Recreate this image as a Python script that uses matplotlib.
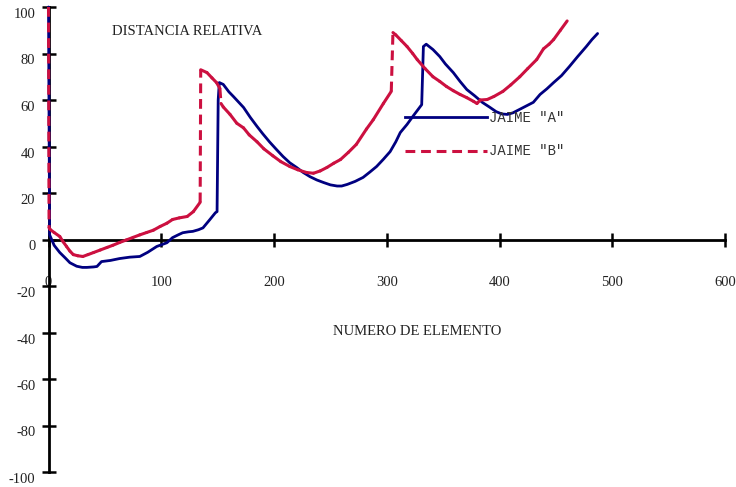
import matplotlib
matplotlib.use("Agg")
import matplotlib.pyplot as plt
import matplotlib.transforms as mtransforms
from matplotlib.collections import LineCollection
from matplotlib.lines import Line2D
import numpy as np

# ---- data ----
a_x = [0, 1, 5, 10, 15, 19, 25, 30, 34, 40, 43, 47, 55, 63, 72, 81, 88, 96, 105, 110,
       115, 119, 124, 128, 133, 137, 143, 148, 149.5, 150.5, 151.5, 155, 160, 164, 173,
       179, 185, 190, 196, 202, 208, 214, 220, 226, 232, 238, 244, 250, 256, 260, 265,
       272, 279, 285, 291, 297, 303, 308, 312, 318, 324, 331, 332.5, 335, 341, 347, 352,
       359, 365, 371, 378, 385, 391, 397, 402, 407, 412, 418, 424, 430, 436, 442, 448,
       455, 462, 469, 477, 482, 487]
a_y = [100, 2, -2.5, -5.6, -8, -10, -11.5, -12, -12, -11.8, -11.6, -9.5, -9, -8.2, -7.6,
       -7.3, -5.5, -3, -1.4, 0.8, 2, 2.9, 3.3, 3.5, 4.2, 5, 8.5, 11.5, 12, 60, 67.5, 66.7,
       63.5, 61.5, 56.8, 52.5, 48.6, 45.5, 42, 38.8, 35.7, 33, 31, 28.8, 27, 25.6, 24.5,
       23.5, 23, 23, 23.7, 25, 26.7, 29, 31.4, 34.5, 37.8, 42, 46, 49.5, 53.5, 58, 83, 84,
       81.7, 78.7, 75.5, 71.8, 68, 64.5, 61.8, 58.9, 57, 55, 54, 53.8, 54.5, 56, 57.5, 59,
       62.4, 64.8, 67.5, 70.5, 74.4, 78.5, 83, 86, 88.6]

b_x = [0, 0.5, 1.5, 5, 10, 13, 16, 19, 22, 26, 30.5, 35, 40, 46, 52, 57, 63, 69, 75, 81,
       87, 93, 99, 105, 110, 116, 123, 128.5, 134.5, 135, 140.5, 145, 149, 152, 153, 155,
       161, 167, 173, 178, 185, 191, 199, 206, 214, 221, 229, 235, 241, 247, 253, 259,
       266, 273, 282, 288, 297, 304, 305.5, 308, 313, 318, 323, 327, 334, 341, 347, 353,
       359, 365, 371, 377, 380, 383, 389, 395, 403, 410, 418, 425, 433, 439, 444, 448,
       454, 460]
b_y = [100, 5, 4.3, 3, 1.3, -1, -3, -5, -6.5, -7, -7.3, -6.5, -5.6, -4.5, -3.4, -2.5,
       -1.3, -0.2, 0.9, 2, 3, 4, 5.6, 7, 8.6, 9.3, 9.9, 12, 16, 73, 71.8, 69.5, 67.5, 65,
       58.5, 57, 53.8, 50, 48, 45, 42, 39, 36, 33.5, 31.4, 30, 28.8, 28.5, 29.5, 31, 32.8,
       34.4, 37.5, 40.9, 47.5, 51.5, 58.5, 63.7, 89, 88, 85.5, 83, 80, 77.4, 73.5, 70, 68,
       65.8, 64, 62.4, 61, 59.4, 58.5, 60, 60.2, 61.5, 63.7, 66.5, 70, 73.5, 77.4, 82, 84,
       86, 90, 94]

series_names = ['JAIME "A"', 'JAIME "B"']
x_ticks = [0, 100, 200, 300, 400, 500, 600]
y_ticks = [-100, -80, -60, -40, -20, 0, 20, 40, 60, 80, 100]
title_text = "DISTANCIA RELATIVA"
xlabel_text = "NUMERO DE ELEMENTO"

# ---- style ----
BLUE = "#000080"
RED = "#CC1040"
SERIF = ["Liberation Serif", "DejaVu Serif"]
MONO = ["Liberation Mono", "DejaVu Sans Mono"]
DASH = (0, (3.2, 1.9))

fig = plt.figure(figsize=(7.36, 4.87), dpi=100)
W, H = 736, 487
ax = fig.add_axes([48.5 / W, 15 / H, (725 - 48.5) / W, (472 - 7) / H])
ax.set_xlim(0, 600)
ax.set_ylim(-100, 100)

for s in ("top", "right"):
    ax.spines[s].set_visible(False)
ax.spines["bottom"].set_position(("data", 0))
ax.spines["left"].set_position(("data", 0))
for s in ("bottom", "left"):
    ax.spines[s].set_linewidth(2.0)
    ax.spines[s].set_color("black")

ax.set_xticks(x_ticks)
ax.set_yticks(y_ticks)
ax.set_xticklabels([str(v) for v in x_ticks])
ax.set_yticklabels([str(v) for v in y_ticks])
ax.tick_params(axis="both", direction="inout", length=10, width=1.8, colors="black",
               labelsize=10.5)
ax.tick_params(axis="x", pad=21)
ax.tick_params(axis="y", pad=4.5)
for lab in ax.get_xticklabels() + ax.get_yticklabels():
    lab.set_fontfamily(SERIF)
    lab.set_color("#222222")
off = mtransforms.ScaledTranslation(0, -6 / 100, fig.dpi_scale_trans)
for lab in ax.get_yticklabels():
    lab.set_transform(lab.get_transform() + off)

# series A: solid navy line
ax.plot(a_x, a_y, color=BLUE, lw=2.0, zorder=3, clip_on=False,
        solid_joinstyle="round", solid_capstyle="round")

# series B: steep jumps drawn dashed, the rest solid
bx = np.asarray(b_x, float)
by = np.asarray(b_y, float)
segs = [[(bx[i], by[i]), (bx[i + 1], by[i + 1])] for i in range(len(bx) - 1)]
slope = np.abs(np.diff(by)) / np.maximum(np.diff(bx), 1e-9)
jump = slope > 4
solid_segs = [s for s, j in zip(segs, jump) if not j]
dash_segs = [s for s, j in zip(segs, jump) if j]
ax.add_collection(LineCollection(solid_segs, colors=RED, linewidths=2.2, zorder=4,
                                 capstyle="round", joinstyle="round", clip_on=False))
ax.add_collection(LineCollection(dash_segs, colors=RED, linewidths=2.2, zorder=4,
                                 linestyles=[DASH], capstyle="butt", clip_on=False))

# texts
ax.text(123, 89.5, title_text, ha="center", va="center", fontsize=10.5,
        family=SERIF, color="#222222")
ax.text(327, -39.6, xlabel_text, ha="center", va="center", fontsize=10.5,
        family=SERIF, color="#222222")

# legend
handles = [Line2D([], [], color=BLUE, lw=2.0),
           Line2D([], [], color=RED, lw=2.2, ls=DASH)]
leg = ax.legend(handles, series_names, loc="upper left",
                bbox_to_anchor=(405 / W, 1 - 111 / H), bbox_transform=fig.transFigure,
                frameon=False, borderpad=0, borderaxespad=0, handlelength=5.9,
                handletextpad=0.15, labelspacing=1.4,
                prop={"family": MONO, "size": 10})
for t in leg.get_texts():
    t.set_color("#333333")

fig.savefig("out.png", dpi=100)
